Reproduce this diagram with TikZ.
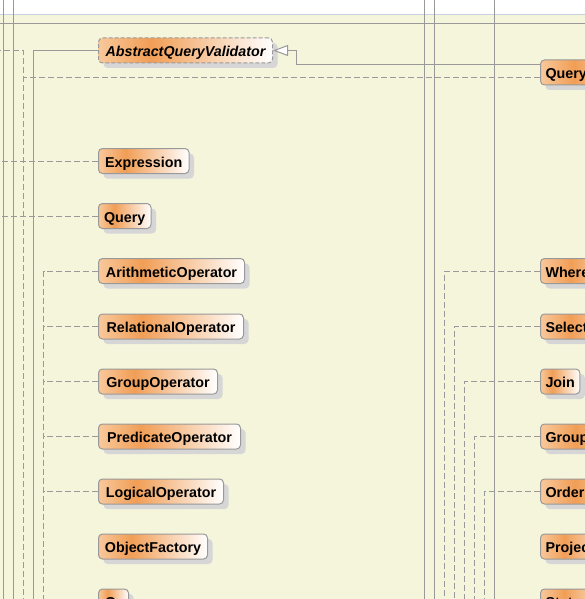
\documentclass[tikz,border=0pt]{standalone}
\usepackage{fontspec}
\setmainfont{Liberation Sans}
\usetikzlibrary{arrows.meta,shadows}

\definecolor{canvasbg}{RGB}{245,245,220}
\definecolor{bandline}{RGB}{200,208,224}
\definecolor{wire}{RGB}{153,153,153}
\definecolor{boxshadow}{RGB}{214,214,214}
\definecolor{shadeedge}{RGB}{248,200,155}
\definecolor{shadepeak}{RGB}{241,158,86}

% class box fill: peach at the left, strongest orange near one third, white at the right
\pgfdeclarehorizontalshading{classfill}{100bp}{color(0bp)=(shadeedge); color(25bp)=(shadeedge); color(40bp)=(shadepeak); color(75bp)=(white); color(100bp)=(white)}

\tikzset{
  cls/.style={draw=wire, line width=1pt, rounded corners=4pt, shade, shading=classfill,
    minimum height=25pt, inner xsep=5pt, inner ysep=0pt, text height=12.6pt, text depth=0pt,
    anchor=west, text=black, font=\fontsize{14.3}{16}\selectfont\bfseries,
    drop shadow={shadow xshift=5pt, shadow yshift=-5pt, fill=boxshadow, opacity=1, draw=none}},
  abstractcls/.style={cls, dash pattern=on 4pt off 2pt,
    font=\fontsize{14.3}{16}\selectfont\bfseries\itshape},
  assoc/.style={draw=wire, line width=1pt},
  dep/.style={assoc, dash pattern=on 6pt off 3pt},
  inherit/.style={assoc, -{Triangle[length=15pt, width=11pt, fill=white]}}
}

\begin{document}
\begin{tikzpicture}[x=1pt, y=-1pt]
\useasboundingbox (0,0) rectangle (585,599);
\clip (0,0) rectangle (585,599);

% canvas, title band and frame line
\fill[white] (0,0) rectangle (585,14);
\fill[canvasbg] (0,14) rectangle (585,599);
\draw[bandline, line width=1pt] (0,14.5) -- (585,14.5);
\draw[wire, line width=1pt] (0,23.5) -- (585,23.5);

% classes, left column
\node[abstractcls, minimum width=174pt] (aqv) at (98,50.5) {AbstractQueryValidator};
\node[cls, minimum width=90.5pt] (expr) at (98,161) {Expression};
\node[cls, minimum width=52.5pt] (query) at (98,216) {Query};
\node[cls, minimum width=146pt] (arith) at (98,271) {ArithmeticOperator};
\node[cls, minimum width=145pt] (rel) at (98,326.5) {RelationalOperator};
\node[cls, minimum width=119pt] (grp) at (98,381.5) {GroupOperator};
\node[cls, minimum width=142pt] (pred) at (98,436.5) {PredicateOperator};
\node[cls, minimum width=125pt] (logic) at (98,491.5) {LogicalOperator};
\node[cls, minimum width=109pt] (objf) at (98,546.5) {ObjectFactory};
\node[cls, minimum width=30pt] (orop) at (98,601.5) {Or};

% classes, right column
\node[cls] (qv) at (540,72.5) {QueryValidator};
\node[cls] (where) at (540,271) {WhereClause};
\node[cls] (select) at (540,326.5) {SelectClause};
\node[cls, minimum width=39pt] (join) at (540,381.5) {Join};
\node[cls] (groupby) at (540,436.5) {GroupByClause};
\node[cls] (orderby) at (540,491.5) {OrderByClause};
\node[cls] (proj) at (540,546.5) {Projection};
\node[cls] (stmt) at (540,601.5) {Statement};

% ends of connectors that leave the sheet
\coordinate (railAn) at (3.5,-5);    \coordinate (railAs) at (3.5,610);
\coordinate (railBn) at (13.5,-5);   \coordinate (railBs) at (13.5,610);
\coordinate (railCn) at (424.5,-5);  \coordinate (railCs) at (424.5,610);
\coordinate (railDn) at (434.5,-5);  \coordinate (railDs) at (434.5,610);
\coordinate (railEn) at (494.5,-5);  \coordinate (railEs) at (494.5,610);
\coordinate (westA) at (-5,50.5);
\coordinate (busA) at (23.5,610);
\coordinate (joinA) at (23.5,78);
\coordinate (busB) at (33.5,610);
\coordinate (busL) at (43.5,610);
\coordinate (busR1) at (444.5,610);
\coordinate (busR2) at (454.5,610);
\coordinate (busR3) at (464.5,610);
\coordinate (busR4) at (474.5,610);
\coordinate (busR5) at (484.5,610);

% long vertical associations
\draw[assoc] (railAn) -- (railAs);
\draw[assoc] (railBn) -- (railBs);
\draw[assoc] (railCn) -- (railCs);
\draw[assoc] (railDn) -- (railDs);
\draw[assoc] (railEn) -- (railEs);

% QueryValidator extends AbstractQueryValidator
\draw[inherit] ([yshift=7.5pt]qv.west) -- ++(-243.5,0) |- (aqv.east);

% dependencies of QueryValidator
\draw[dep] (westA) -| (busA);
\draw[dep] ([yshift=-5.5pt]qv.west) -- (joinA);

% association of AbstractQueryValidator
\draw[assoc] (aqv.west) -| (busB);

% dependencies entering from the left
\draw[dep] (expr.west) -- ++(-105,0);
\draw[dep] (query.west) -- ++(-105,0);

% operator dependencies
\draw[dep] (arith.west) -| (busL);
\draw[dep] (rel.west) -- (rel.west -| busL);
\draw[dep] (grp.west) -- (grp.west -| busL);
\draw[dep] (pred.west) -- (pred.west -| busL);
\draw[dep] (logic.west) -- (logic.west -| busL);

% clause dependencies
\draw[dep] (where.west) -| (busR1);
\draw[dep] (select.west) -| (busR2);
\draw[dep] (join.west) -| (busR3);
\draw[dep] (groupby.west) -| (busR4);
\draw[dep] (orderby.west) -| (busR5);
\end{tikzpicture}
\end{document}
